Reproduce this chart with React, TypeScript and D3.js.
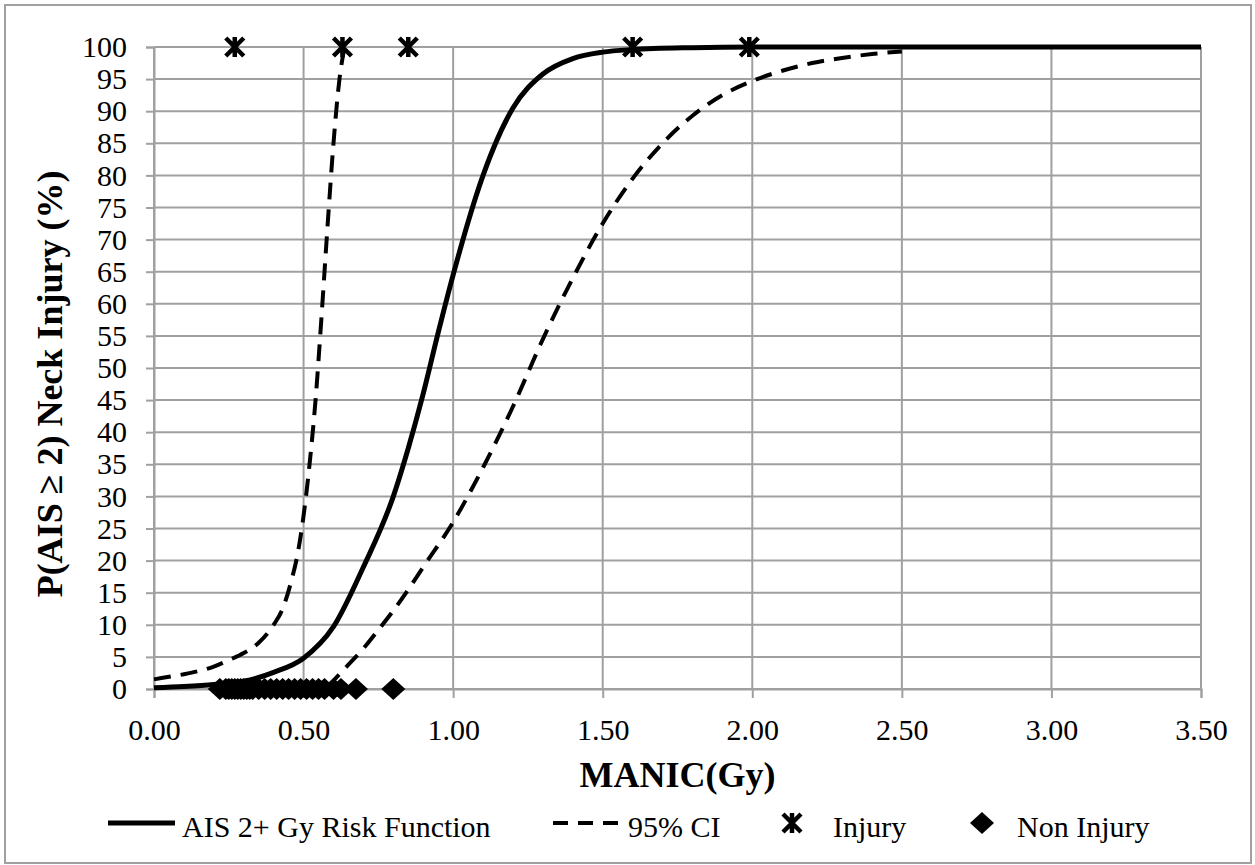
import * as d3 from "d3";
import { useEffect, useRef } from "react";

// values (x = MANIC in Gy, y = probability in %)
const riskX = [0, 0.1, 0.2, 0.3, 0.4, 0.5, 0.6, 0.7, 0.8, 0.85, 0.9, 0.95, 1.0, 1.1, 1.2, 1.3, 1.4, 1.5, 1.6, 1.8, 2.0, 2.5, 3.0, 3.5];
const riskY = [0.2, 0.4, 0.7, 1.2, 2.6, 4.8, 9.7, 19, 30, 37.5, 46, 55.5, 64.5, 80, 90.5, 95.8, 98.2, 99.2, 99.6, 99.9, 100, 100, 100, 100];

const ciLowX = [0, 0.05, 0.1, 0.15, 0.2, 0.25, 0.3, 0.35, 0.4, 0.43, 0.46, 0.48, 0.5, 0.52, 0.54, 0.56, 0.58, 0.6, 0.62, 0.635];
const ciLowY = [1.5, 1.9, 2.3, 2.8, 3.5, 4.5, 5.6, 7.2, 10, 12.5, 17, 21, 27, 35, 45, 58, 72, 85, 95, 99.5];

const ciHighX = [0.58, 0.6, 0.65, 0.7, 0.75, 0.8, 0.85, 0.9, 1.0, 1.1, 1.2, 1.3, 1.4, 1.5, 1.6, 1.7, 1.8, 1.9, 2.0, 2.1, 2.2, 2.3, 2.4, 2.5];
const ciHighY = [0.3, 1.3, 3.8, 6.3, 9.2, 12.2, 15.5, 19, 26, 34.5, 44, 54.5, 64, 72.5, 79.5, 85, 89.3, 92.5, 94.7, 96.3, 97.5, 98.3, 98.9, 99.3];

const injuryX = [0.27, 0.63, 0.85, 1.6, 1.99];
const injuryY = [100, 100, 100, 100, 100];

const nonInjuryX = [0.22, 0.24, 0.25, 0.26, 0.27, 0.28, 0.29, 0.3, 0.31, 0.32, 0.33, 0.35, 0.37, 0.39, 0.41, 0.43, 0.45, 0.47, 0.49, 0.51, 0.53, 0.55, 0.57, 0.6, 0.625, 0.675, 0.8];

const xTicks = [0, 0.5, 1, 1.5, 2, 2.5, 3, 3.5];
const yTicks = d3.range(0, 101, 5);

const legendLabels = ["AIS 2+ Gy Risk Function", "95% CI", "Injury", "Non Injury"];

const W = 1255;
const H = 865;
const FONT = "'Liberation Serif', 'Times New Roman', serif";
const GRID = "#a0a0a0";

export default function App() {
  const svgRef = useRef<SVGSVGElement>(null);

  useEffect(() => {
    if (!svgRef.current) return;
    const svg = d3.select(svgRef.current);
    svg.selectAll("*").remove();

    const x = d3.scaleLinear().domain([0, 3.5]).range([154, 1201]);
    const y = d3.scaleLinear().domain([0, 100]).range([689, 47]);

    // chart frame
    svg
      .append("rect")
      .attr("x", 5)
      .attr("y", 5)
      .attr("width", 1246)
      .attr("height", 858)
      .attr("fill", "#fff")
      .attr("stroke", GRID)
      .attr("stroke-width", 2);

    // gridlines
    const grid = svg.append("g").attr("stroke", GRID).attr("stroke-width", 2);
    grid
      .selectAll("line.h")
      .data(yTicks)
      .join("line")
      .attr("x1", x(0))
      .attr("x2", x(3.5))
      .attr("y1", (d) => y(d))
      .attr("y2", (d) => y(d));
    grid
      .selectAll("line.v")
      .data(xTicks)
      .join("line")
      .attr("x1", (d) => x(d))
      .attr("x2", (d) => x(d))
      .attr("y1", y(0))
      .attr("y2", y(100));

    // axes
    const xAxis = svg
      .append("g")
      .attr("transform", `translate(0,${y(0)})`)
      .call(
        d3
          .axisBottom(x)
          .tickValues(xTicks)
          .tickFormat(d3.format(".2f") as any)
          .tickSize(9)
          .tickPadding(21),
      );
    const yAxis = svg
      .append("g")
      .attr("transform", `translate(${x(0)},0)`)
      .call(d3.axisLeft(y).tickValues(yTicks).tickSize(8).tickPadding(19));
    [xAxis, yAxis].forEach((g) => {
      g.selectAll(".domain, .tick line").attr("stroke", GRID).attr("stroke-width", 2);
      g.selectAll(".tick text")
        .attr("fill", "#000")
        .attr("font-family", FONT)
        .attr("font-size", 30);
    });

    // axis titles
    svg
      .append("text")
      .attr("x", (x(0) + x(3.5)) / 2)
      .attr("y", 787)
      .attr("text-anchor", "middle")
      .attr("font-family", FONT)
      .attr("font-weight", "bold")
      .attr("font-size", 36)
      .text("MANIC(Gy)");
    svg
      .append("text")
      .attr("transform", "translate(62,384) rotate(-90)")
      .attr("text-anchor", "middle")
      .attr("font-family", FONT)
      .attr("font-weight", "bold")
      .attr("font-size", 36)
      .text("P(AIS \u2265 2) Neck Injury (%)");

    const line = d3
      .line<[number, number]>()
      .x((d) => x(d[0]))
      .y((d) => y(d[1]))
      .curve(d3.curveMonotoneX);

    const plot = svg.append("g").attr("fill", "none").attr("stroke", "#000");

    plot
      .append("path")
      .attr("d", line(riskX.map((v, i) => [v, riskY[i]]))!)
      .attr("stroke-width", 5);

    [
      [ciLowX, ciLowY],
      [ciHighX, ciHighY],
    ].forEach(([xs, ys]) => {
      plot
        .append("path")
        .attr("d", line(xs.map((v, i) => [v, ys[i]]))!)
        .attr("stroke-width", 4)
        .attr("stroke-dasharray", "17 10");
    });

    const starPath = "M-9,-9L9,9M-9,9L9,-9M0,-10L0,10";
    const diamondPath = "M0,-11L12,0L0,11L-12,0Z";

    svg
      .append("g")
      .selectAll("path")
      .data(injuryX)
      .join("path")
      .attr("transform", (d, i) => `translate(${x(d)},${y(injuryY[i])})`)
      .attr("d", starPath)
      .attr("stroke", "#000")
      .attr("stroke-width", 4.5)
      .attr("fill", "none");

    svg
      .append("g")
      .selectAll("path")
      .data(nonInjuryX)
      .join("path")
      .attr("transform", (d) => `translate(${x(d)},${y(0)})`)
      .attr("d", diamondPath)
      .attr("fill", "#000");

    // legend
    const ly = 826;
    const legend = svg
      .append("g")
      .attr("font-family", FONT)
      .attr("font-size", 30);
    legend
      .append("line")
      .attr("x1", 108)
      .attr("x2", 175)
      .attr("y1", ly - 3)
      .attr("y2", ly - 3)
      .attr("stroke", "#000")
      .attr("stroke-width", 5);
    legend
      .append("line")
      .attr("x1", 553)
      .attr("x2", 620)
      .attr("y1", ly - 3)
      .attr("y2", ly - 3)
      .attr("stroke", "#000")
      .attr("stroke-width", 4)
      .attr("stroke-dasharray", "15 10");
    legend
      .append("path")
      .attr("transform", `translate(792,${ly - 3})`)
      .attr("d", starPath)
      .attr("stroke", "#000")
      .attr("stroke-width", 4.5);
    legend
      .append("path")
      .attr("transform", `translate(982,${ly - 3})`)
      .attr("d", diamondPath)
      .attr("fill", "#000");
    const labelX = [182, 628, 833, 1017];
    legend
      .selectAll("text")
      .data(legendLabels)
      .join("text")
      .attr("x", (d, i) => labelX[i])
      .attr("y", ly + 11)
      .text((d) => d);
  }, []);

  return (
    <svg
      ref={svgRef}
      width={W}
      height={H}
      viewBox={`0 0 ${W} ${H}`}
      style={{ position: "absolute", left: 0, top: 0, background: "#fff", display: "block" }}
    />
  );
}
